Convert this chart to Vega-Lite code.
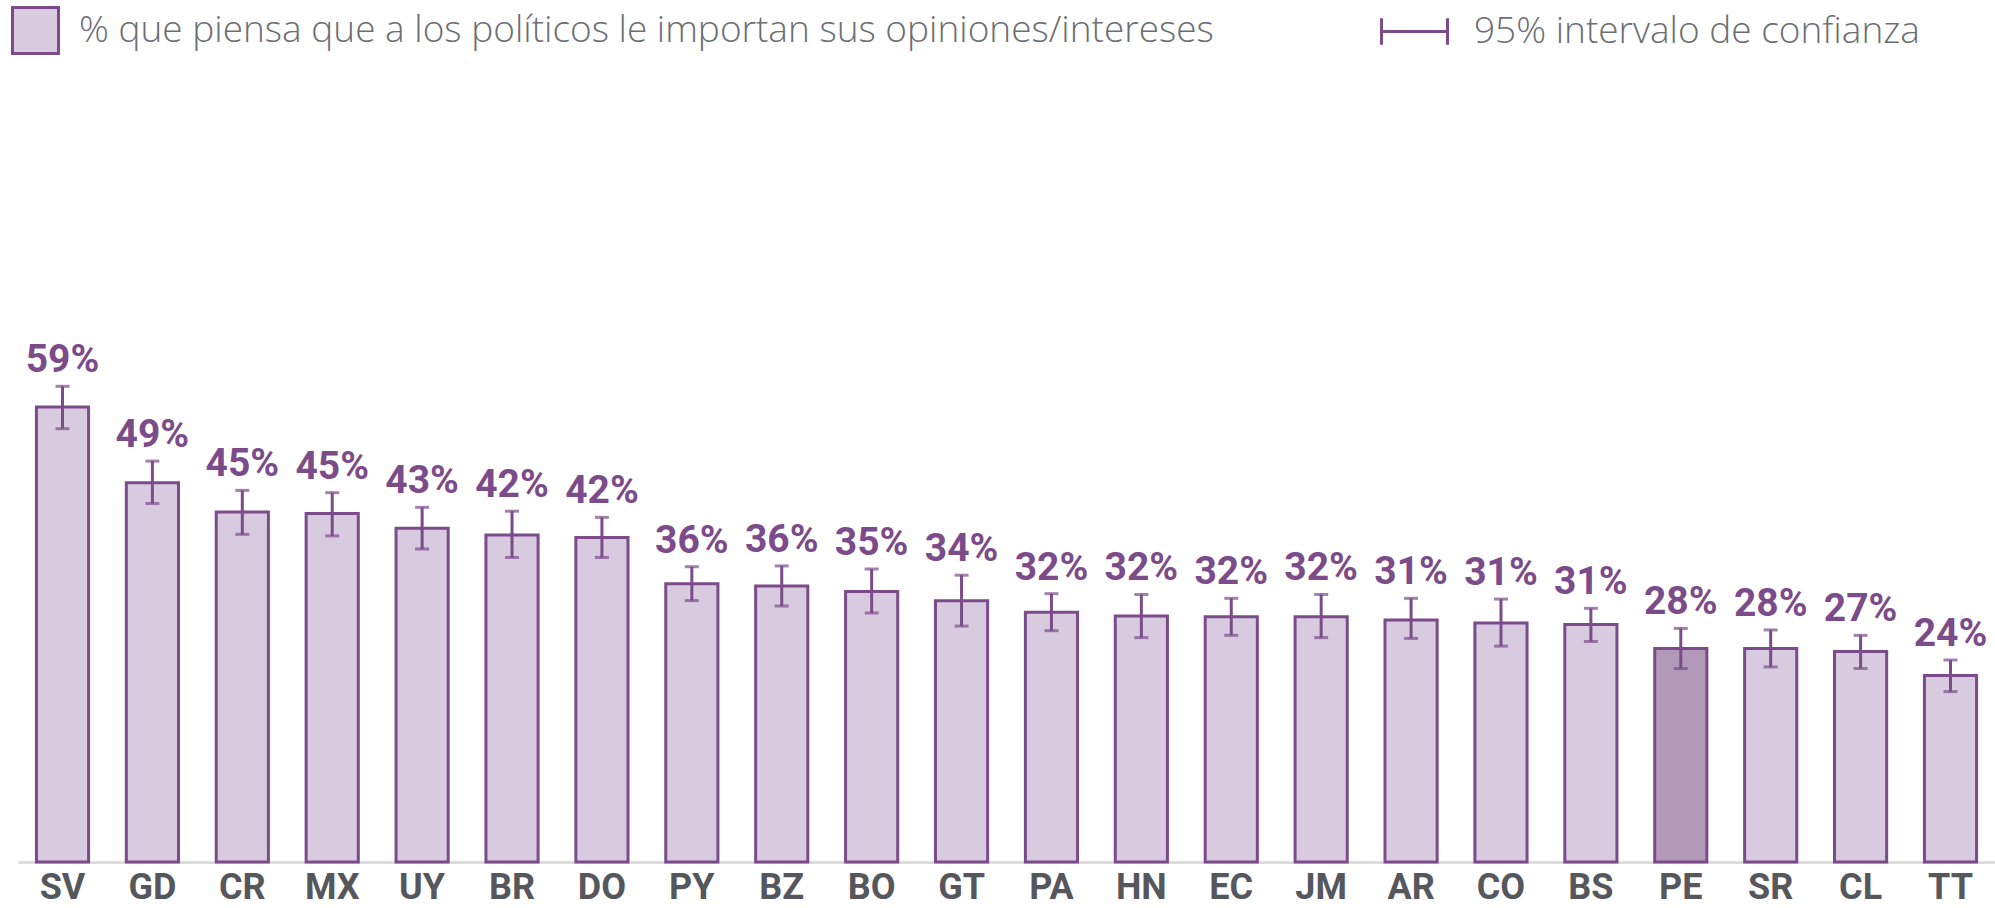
{
  "$schema": "https://vega.github.io/schema/vega-lite/v6.json",
  "width": 1977,
  "height": 771,
  "autosize": {"type": "none"},
  "padding": {"left": 18, "top": 91, "right": 0, "bottom": 46},
  "background": "white",
  "config": {"view": {"stroke": null}, "font": "Roboto"},
  "data": {
    "values": [
      {"pais": "SV", "v": 0.590, "lo": 0.562, "hi": 0.617},
      {"pais": "GD", "v": 0.492, "lo": 0.465, "hi": 0.520},
      {"pais": "CR", "v": 0.454, "lo": 0.425, "hi": 0.482},
      {"pais": "MX", "v": 0.452, "lo": 0.423, "hi": 0.479},
      {"pais": "UY", "v": 0.433, "lo": 0.406, "hi": 0.460},
      {"pais": "BR", "v": 0.424, "lo": 0.395, "hi": 0.455},
      {"pais": "DO", "v": 0.421, "lo": 0.395, "hi": 0.447},
      {"pais": "PY", "v": 0.361, "lo": 0.339, "hi": 0.383},
      {"pais": "BZ", "v": 0.358, "lo": 0.332, "hi": 0.384},
      {"pais": "BO", "v": 0.351, "lo": 0.323, "hi": 0.380},
      {"pais": "GT", "v": 0.339, "lo": 0.306, "hi": 0.372},
      {"pais": "PA", "v": 0.324, "lo": 0.300, "hi": 0.348},
      {"pais": "HN", "v": 0.319, "lo": 0.291, "hi": 0.347},
      {"pais": "EC", "v": 0.318, "lo": 0.294, "hi": 0.342},
      {"pais": "JM", "v": 0.318, "lo": 0.291, "hi": 0.347},
      {"pais": "AR", "v": 0.314, "lo": 0.290, "hi": 0.342},
      {"pais": "CO", "v": 0.310, "lo": 0.280, "hi": 0.341},
      {"pais": "BS", "v": 0.308, "lo": 0.286, "hi": 0.329},
      {"pais": "PE", "v": 0.277, "lo": 0.251, "hi": 0.303},
      {"pais": "SR", "v": 0.277, "lo": 0.253, "hi": 0.301},
      {"pais": "CL", "v": 0.273, "lo": 0.251, "hi": 0.294},
      {"pais": "TT", "v": 0.242, "lo": 0.221, "hi": 0.262}
    ]
  },
  "encoding": {
    "x": {
      "field": "pais",
      "type": "nominal",
      "sort": null,
      "scale": {"paddingInner": 0.42, "paddingOuter": 0.205},
      "axis": {
        "title": null,
        "labelAngle": 0,
        "ticks": false,
        "grid": false,
        "domainColor": "#dcdcdc",
        "domainWidth": 3,
        "labelFont": "Roboto",
        "labelFontWeight": "bold",
        "labelFontSize": 36,
        "labelColor": "#55575c",
        "labelPadding": 8
      }
    }
  },
  "layer": [
    {
      "mark": {"type": "bar", "stroke": "#7b4b8a", "strokeWidth": 3},
      "encoding": {
        "y": {"field": "v", "type": "quantitative", "scale": {"domain": [0, 1], "nice": false}, "axis": null},
        "fill": {
          "datum": "% que piensa que a los políticos le importan sus opiniones/intereses",
          "scale": {"range": ["#d9cbdf"]},
          "condition": {"test": "datum.pais === 'PE'", "value": "#b298b9"},
          "legend": {
            "orient": "none",
            "legendX": -7,
            "legendY": -85,
            "title": null,
            "padding": 0,
            "symbolType": "square",
            "symbolSize": 2116,
            "symbolStrokeColor": "#7b4b8a",
            "symbolStrokeWidth": 3,
            "labelFont": "Open Sans",
            "labelFontWeight": 300,
            "labelFontSize": 37,
            "labelColor": "#6b6e73",
            "labelOffset": 19,
            "labelLimit": 0
          }
        }
      }
    },
    {
      "mark": {"type": "rule", "strokeWidth": 3},
      "encoding": {
        "y": {"field": "lo", "type": "quantitative"},
        "y2": {"field": "hi"},
        "color": {
          "datum": "95% intervalo de confianza",
          "scale": {"range": ["#7b4b8a"]},
          "legend": {
            "orient": "none",
            "legendX": 1362,
            "legendY": -94,
            "title": null,
            "padding": 0,
            "symbolType": "M-1,-0.4V0.4M-1,0H1M1,-0.4V0.4",
            "symbolSize": 4356,
            "symbolStrokeColor": "#7b4b8a",
            "symbolFillColor": "transparent",
            "symbolStrokeWidth": 3,
            "labelFont": "Open Sans",
            "labelFontWeight": 300,
            "labelFontSize": 37,
            "labelColor": "#6b6e73",
            "labelOffset": 25,
            "labelLimit": 0
          }
        }
      }
    },
    {
      "mark": {"type": "tick", "color": "#7b4b8a", "size": 14, "thickness": 3, "orient": "horizontal"},
      "encoding": {"y": {"field": "hi", "type": "quantitative"}}
    },
    {
      "mark": {"type": "tick", "color": "#7b4b8a", "size": 14, "thickness": 3, "orient": "horizontal"},
      "encoding": {"y": {"field": "lo", "type": "quantitative"}}
    },
    {
      "mark": {"type": "text", "font": "Roboto", "fontWeight": "bold", "fontSize": 39, "color": "#7b4b8a", "baseline": "alphabetic", "dy": -14},
      "encoding": {
        "y": {"field": "hi", "type": "quantitative"},
        "text": {"field": "v", "type": "quantitative", "format": ".0%"}
      }
    }
  ]
}
